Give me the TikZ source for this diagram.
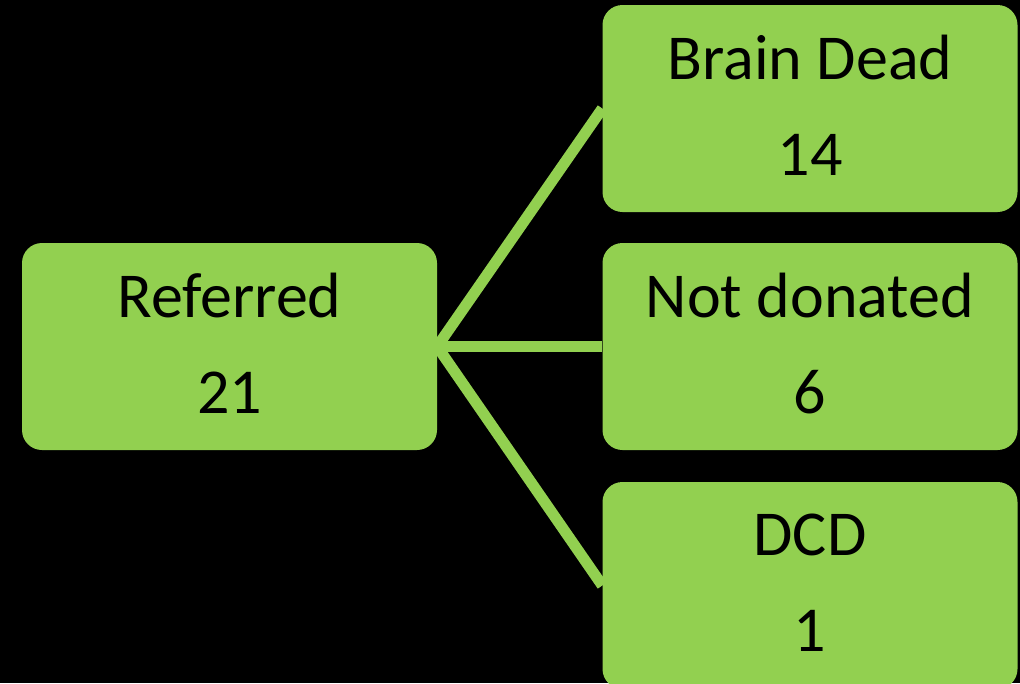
\documentclass[tikz,border=0pt]{standalone}
\usepackage{fontspec}
\setmainfont{Carlito}
\definecolor{leaf}{HTML}{92D050}
\begin{document}
\begin{tikzpicture}[x=1pt,y=-1pt,
  box/.style={fill=leaf, draw=none, rounded corners=20pt, minimum width=415pt, minimum height=207pt,
    inner sep=0pt, align=center, text=black, font=\fontsize{64}{96}\selectfont,
    execute at end node={\rule[-6pt]{0pt}{6pt}}},
  conn/.style={draw=leaf, line width=11pt}]
\useasboundingbox (0,0) rectangle (1020,683);
\fill[black] (0,0) rectangle (1020,683);
\clip (0,0) rectangle (1020,683);
\node[box] (ref) at (229.5,346.5) {Referred\\21};
\node[box] (bd) at (810,108.5) {Brain Dead\\14};
\node[box] (nd) at (810,346.5) {Not donated\\6};
\node[box] (dcd) at (810,585.5) {DCD\\1};
\draw[conn] (ref.east) -- (bd.west);
\draw[conn] (ref.east) -- (nd.west);
\draw[conn] (ref.east) -- (dcd.west);
\end{tikzpicture}
\end{document}
